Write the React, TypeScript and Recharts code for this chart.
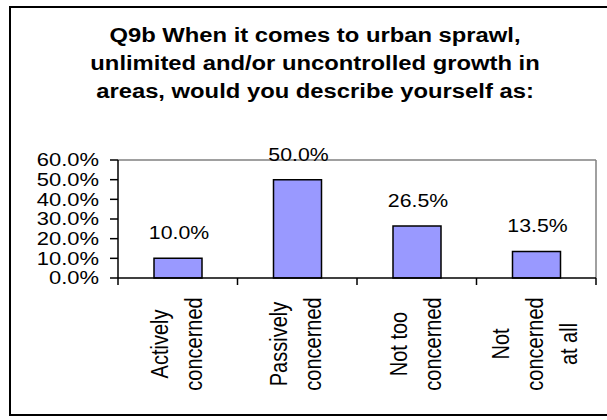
import { BarChart, Bar, XAxis, YAxis, CartesianGrid } from "recharts";

const TITLE_LINES = [
  "Q9b When it comes to urban sprawl,",
  "unlimited and/or uncontrolled growth in",
  "areas, would you describe yourself as:",
];
const CATEGORIES = ["Actively concerned", "Passively concerned", "Not too concerned", "Not concerned at all"];
const CATEGORY_LINES = [
  ["Actively", "concerned"],
  ["Passively", "concerned"],
  ["Not too", "concerned"],
  ["Not", "concerned", "at all"],
];
const VALUES = [10.0, 50.0, 26.5, 13.5];
const Y_TICKS = [0, 10, 20, 30, 40, 50, 60];

const FONT = "'Liberation Sans', Arial, sans-serif";
// the original picture is stretched sideways, so text is widened a bit
const STRETCH = 1.22;

const data = CATEGORIES.map((name, i) => ({ name, value: VALUES[i], lines: CATEGORY_LINES[i] }));

const pct = (v: number) => `${Number(v).toFixed(1)}%`;

function CategoryTick(props: any) {
  const { x, y, payload, index } = props;
  const row = data.find((d) => d.name === payload.value);
  const lines = row ? row.lines : [String(payload.value)];
  const n = lines.length;
  const half = payload.offset ?? 0;
  const isLast = index === data.length - 1;
  return (
    <g>
      <line x1={x - half} x2={x - half} y1={y} y2={y + 7} stroke="#000" strokeWidth={1.5} />
      {isLast && <line x1={x + half} x2={x + half} y1={y} y2={y + 7} stroke="#000" strokeWidth={1.5} />}
      <g transform={`translate(${x},${y + 66}) rotate(-90) scale(1,${STRETCH})`}>
        {lines.map((l, i) => (
          <text
            key={i}
            x={0}
            y={((i - (n - 1) / 2) * 34 + 7) / STRETCH}
            textAnchor="middle"
            fontFamily={FONT}
            fontSize={20}
            fill="#000"
          >
            {l}
          </text>
        ))}
      </g>
    </g>
  );
}

function ValueTick(props: any) {
  const { x, y, payload } = props;
  return (
    <g transform={`translate(${x},${y}) scale(${STRETCH},1)`}>
      <text x={0} y={0} dy="0.36em" textAnchor="end" fontFamily={FONT} fontSize={18} fill="#000">
        {pct(payload.value)}
      </text>
    </g>
  );
}

function ValueLabel(props: any) {
  const { x, y, width, value } = props;
  return (
    <g transform={`translate(${x + width / 2 + 1},${y - 19}) scale(1.12,1)`}>
      <text x={0} y={0} textAnchor="middle" fontFamily={FONT} fontSize={19} fill="#000">
        {pct(value)}
      </text>
    </g>
  );
}

export default function App() {
  return (
    <div style={{ position: "absolute", left: 0, top: 0, width: 607, height: 420, overflow: "hidden", background: "#fff" }}>
      <div
        style={{
          position: "absolute",
          left: 9,
          top: 6,
          width: 640,
          height: 406,
          border: "2px solid #000",
        }}
      />
      <div
        style={{
          position: "absolute",
          left: 0,
          top: 21,
          width: 630,
          textAlign: "center",
          fontFamily: FONT,
          fontWeight: "bold",
          fontSize: 19.5,
          lineHeight: "28px",
          color: "#000",
          transform: `scaleX(${STRETCH})`,
          transformOrigin: "315px 0",
        }}
      >
        {TITLE_LINES.map((t) => (
          <div key={t}>{t}</div>
        ))}
      </div>
      <div style={{ position: "absolute", left: 0, top: 0 }}>
        <BarChart width={607} height={420} data={data} margin={{ top: 160, right: 11, bottom: 12, left: 18 }}>
          <CartesianGrid
            stroke="#808080"
            strokeWidth={1.5}
            horizontalCoordinatesGenerator={({ offset }: any) => [offset.top]}
            verticalCoordinatesGenerator={({ offset }: any) => [offset.left + offset.width]}
          />
          <XAxis
            dataKey="name"
            height={130}
            axisLine={{ stroke: "#000", strokeWidth: 1.5 }}
            tickLine={false}
            tickSize={0}
            tickMargin={0}
            interval={0}
            tick={<CategoryTick />}
          />
          <YAxis
            type="number"
            domain={[0, 60]}
            ticks={Y_TICKS}
            interval={0}
            width={100}
            axisLine={{ stroke: "#000", strokeWidth: 1.5 }}
            tickLine={{ stroke: "#000", strokeWidth: 1.5 }}
            tickSize={8}
            tickMargin={11}
            tick={<ValueTick />}
          />
          <Bar
            dataKey="value"
            fill="#9999FF"
            stroke="#000"
            strokeWidth={1.5}
            barSize={48}
            label={<ValueLabel />}
            isAnimationActive={false}
          />
        </BarChart>
      </div>
    </div>
  );
}
